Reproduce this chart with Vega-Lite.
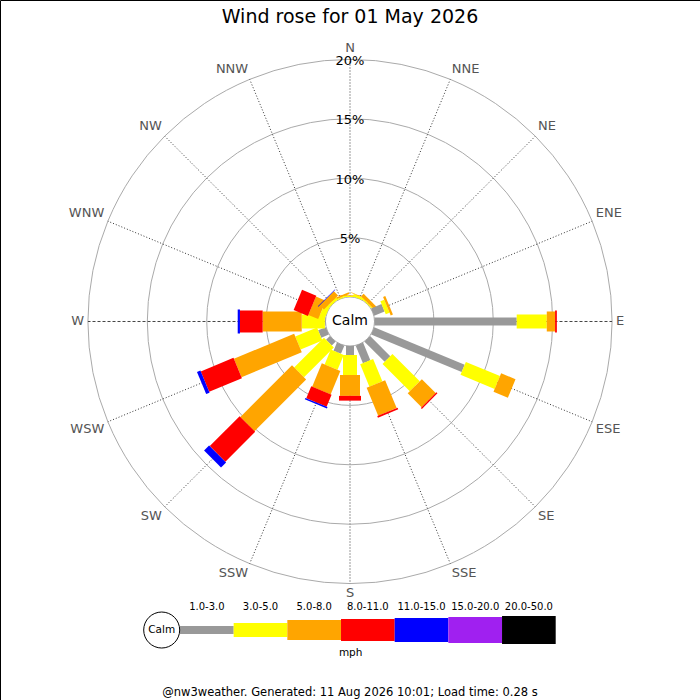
{
  "$schema": "https://vega.github.io/schema/vega-lite/v6.json",
  "width": 700,
  "height": 700,
  "autosize": {"type": "fit", "contains": "padding"},
  "padding": 0,
  "background": "white",
  "config": {"font": "DejaVu Sans", "view": {"stroke": "#000000", "strokeWidth": 1}},
  "datasets": {
    "wind": [
      {"dir": "NNW", "deg": 337.5, "k": 2, "speed": "3.0-5.0", "pct": 0.1},
      {"dir": "NNW", "deg": 337.5, "k": 3, "speed": "5.0-8.0", "pct": 0.15},
      {"dir": "N", "deg": 0, "k": 2, "speed": "3.0-5.0", "pct": 0.1},
      {"dir": "N", "deg": 0, "k": 3, "speed": "5.0-8.0", "pct": 0.05},
      {"dir": "NNE", "deg": 22.5, "k": 2, "speed": "3.0-5.0", "pct": 0.2},
      {"dir": "NNE", "deg": 22.5, "k": 3, "speed": "5.0-8.0", "pct": 0.05},
      {"dir": "NE", "deg": 45, "k": 2, "speed": "3.0-5.0", "pct": 0.1},
      {"dir": "NE", "deg": 45, "k": 3, "speed": "5.0-8.0", "pct": 0.3},
      {"dir": "ENE", "deg": 67.5, "k": 1, "speed": "1.0-3.0", "pct": 0.95},
      {"dir": "ENE", "deg": 67.5, "k": 2, "speed": "3.0-5.0", "pct": 0.35},
      {"dir": "ENE", "deg": 67.5, "k": 3, "speed": "5.0-8.0", "pct": 0.2},
      {"dir": "E", "deg": 90, "k": 1, "speed": "1.0-3.0", "pct": 11.97},
      {"dir": "E", "deg": 90, "k": 2, "speed": "3.0-5.0", "pct": 2.53},
      {"dir": "E", "deg": 90, "k": 3, "speed": "5.0-8.0", "pct": 0.7},
      {"dir": "E", "deg": 90, "k": 4, "speed": "8.0-11.0", "pct": 0.15},
      {"dir": "ESE", "deg": 112.5, "k": 1, "speed": "1.0-3.0", "pct": 8.25},
      {"dir": "ESE", "deg": 112.5, "k": 2, "speed": "3.0-5.0", "pct": 3.11},
      {"dir": "ESE", "deg": 112.5, "k": 3, "speed": "5.0-8.0", "pct": 1.31},
      {"dir": "SE", "deg": 135, "k": 1, "speed": "1.0-3.0", "pct": 2.4},
      {"dir": "SE", "deg": 135, "k": 2, "speed": "3.0-5.0", "pct": 3.25},
      {"dir": "SE", "deg": 135, "k": 3, "speed": "5.0-8.0", "pct": 1.65},
      {"dir": "SE", "deg": 135, "k": 4, "speed": "8.0-11.0", "pct": 0.12},
      {"dir": "SSE", "deg": 157.5, "k": 1, "speed": "1.0-3.0", "pct": 1.6},
      {"dir": "SSE", "deg": 157.5, "k": 2, "speed": "3.0-5.0", "pct": 2.03},
      {"dir": "SSE", "deg": 157.5, "k": 3, "speed": "5.0-8.0", "pct": 2.54},
      {"dir": "SSE", "deg": 157.5, "k": 4, "speed": "8.0-11.0", "pct": 0.15},
      {"dir": "S", "deg": 180, "k": 1, "speed": "1.0-3.0", "pct": 0.76},
      {"dir": "S", "deg": 180, "k": 2, "speed": "3.0-5.0", "pct": 1.68},
      {"dir": "S", "deg": 180, "k": 3, "speed": "5.0-8.0", "pct": 1.76},
      {"dir": "S", "deg": 180, "k": 4, "speed": "8.0-11.0", "pct": 0.4},
      {"dir": "SSW", "deg": 202.5, "k": 1, "speed": "1.0-3.0", "pct": 0.74},
      {"dir": "SSW", "deg": 202.5, "k": 2, "speed": "3.0-5.0", "pct": 1.36},
      {"dir": "SSW", "deg": 202.5, "k": 3, "speed": "5.0-8.0", "pct": 2.13},
      {"dir": "SSW", "deg": 202.5, "k": 4, "speed": "8.0-11.0", "pct": 1.09},
      {"dir": "SSW", "deg": 202.5, "k": 5, "speed": "11.0-15.0", "pct": 0.13},
      {"dir": "SW", "deg": 225, "k": 1, "speed": "1.0-3.0", "pct": 0.45},
      {"dir": "SW", "deg": 225, "k": 2, "speed": "3.0-5.0", "pct": 3.55},
      {"dir": "SW", "deg": 225, "k": 3, "speed": "5.0-8.0", "pct": 6.15},
      {"dir": "SW", "deg": 225, "k": 4, "speed": "8.0-11.0", "pct": 3.55},
      {"dir": "SW", "deg": 225, "k": 5, "speed": "11.0-15.0", "pct": 0.6},
      {"dir": "WSW", "deg": 247.5, "k": 1, "speed": "1.0-3.0", "pct": 0.7},
      {"dir": "WSW", "deg": 247.5, "k": 2, "speed": "3.0-5.0", "pct": 1.98},
      {"dir": "WSW", "deg": 247.5, "k": 3, "speed": "5.0-8.0", "pct": 5.49},
      {"dir": "WSW", "deg": 247.5, "k": 4, "speed": "8.0-11.0", "pct": 2.98},
      {"dir": "WSW", "deg": 247.5, "k": 5, "speed": "11.0-15.0", "pct": 0.31},
      {"dir": "W", "deg": 270, "k": 1, "speed": "1.0-3.0", "pct": 0.05},
      {"dir": "W", "deg": 270, "k": 2, "speed": "3.0-5.0", "pct": 1.95},
      {"dir": "W", "deg": 270, "k": 3, "speed": "5.0-8.0", "pct": 3.29},
      {"dir": "W", "deg": 270, "k": 4, "speed": "8.0-11.0", "pct": 1.91},
      {"dir": "W", "deg": 270, "k": 5, "speed": "11.0-15.0", "pct": 0.19},
      {"dir": "WNW", "deg": 292.5, "k": 2, "speed": "3.0-5.0", "pct": 0.49},
      {"dir": "WNW", "deg": 292.5, "k": 3, "speed": "5.0-8.0", "pct": 0.9},
      {"dir": "WNW", "deg": 292.5, "k": 4, "speed": "8.0-11.0", "pct": 1.3},
      {"dir": "NW", "deg": 315, "k": 2, "speed": "3.0-5.0", "pct": 0.2},
      {"dir": "NW", "deg": 315, "k": 3, "speed": "5.0-8.0", "pct": 0.5},
      {"dir": "NW", "deg": 315, "k": 5, "speed": "11.0-15.0", "pct": 0.05}
    ],
    "dirs": [
      {"name": "N", "deg": 0}, {"name": "NNE", "deg": 22.5}, {"name": "NE", "deg": 45}, {"name": "ENE", "deg": 67.5},
      {"name": "E", "deg": 90}, {"name": "ESE", "deg": 112.5}, {"name": "SE", "deg": 135}, {"name": "SSE", "deg": 157.5},
      {"name": "S", "deg": 180}, {"name": "SSW", "deg": 202.5}, {"name": "SW", "deg": 225}, {"name": "WSW", "deg": 247.5},
      {"name": "W", "deg": 270}, {"name": "WNW", "deg": 292.5}, {"name": "NW", "deg": 315}, {"name": "NNW", "deg": 337.5}
    ],
    "rings": [{"pct": 5}, {"pct": 10}, {"pct": 15}, {"pct": 20}],
    "classes": [
      {"k": 1, "speed": "1.0-3.0"}, {"k": 2, "speed": "3.0-5.0"}, {"k": 3, "speed": "5.0-8.0"},
      {"k": 4, "speed": "8.0-11.0"}, {"k": 5, "speed": "11.0-15.0"}, {"k": 6, "speed": "15.0-20.0"},
      {"k": 7, "speed": "20.0-50.0"}
    ]
  },
  "resolve": {"scale": {"x": "independent"}},
  "layer": [
    {
      "layer": [
        {
          "data": {"name": "rings"},
          "transform": [{"calculate": "2.062 + datum.pct", "as": "rr"}],
          "mark": {"type": "point", "shape": "circle", "filled": false, "stroke": "#aaaaaa", "strokeWidth": 1, "opacity": 1},
          "encoding": {
            "x": {"datum": 0, "type": "quantitative", "scale": {"domain": [-29.46, 29.46], "nice": false, "zero": false}, "axis": null},
            "y": {"datum": 0, "type": "quantitative", "scale": {"domain": [-31.86, 27.06], "nice": false, "zero": false}, "axis": null},
            "size": {"field": "rr", "type": "quantitative", "scale": {"type": "pow", "exponent": 2, "domain": [0, 1], "range": [0, 564.5]}, "legend": null}
          }
        },
        {
          "data": {"name": "dirs"},
          "transform": [
            {"filter": "datum.deg % 90 != 0"},
            {"calculate": "2.062 * sin(datum.deg * PI / 180)", "as": "ax"},
            {"calculate": "2.062 * cos(datum.deg * PI / 180)", "as": "ay"},
            {"calculate": "22.062 * sin(datum.deg * PI / 180)", "as": "bx"},
            {"calculate": "22.062 * cos(datum.deg * PI / 180)", "as": "by"}
          ],
          "mark": {"type": "rule", "color": "#333333", "strokeWidth": 1, "strokeDash": [1, 2]},
          "encoding": {
            "x": {"field": "ax", "type": "quantitative", "scale": {"domain": [-29.46, 29.46], "nice": false, "zero": false}, "axis": null},
            "y": {"field": "ay", "type": "quantitative", "scale": {"domain": [-31.86, 27.06], "nice": false, "zero": false}, "axis": null},
            "x2": {"field": "bx"},
            "y2": {"field": "by"}
          }
        },
        {
          "data": {"name": "dirs"},
          "transform": [
            {"filter": "datum.deg == 90 || datum.deg == 270"},
            {"calculate": "2.062 * sin(datum.deg * PI / 180)", "as": "ax"},
            {"calculate": "22.062 * sin(datum.deg * PI / 180)", "as": "bx"}
          ],
          "mark": {"type": "rule", "color": "#444444", "strokeWidth": 1, "strokeDash": [3, 2]},
          "encoding": {
            "x": {"field": "ax", "type": "quantitative", "scale": {"domain": [-29.46, 29.46], "nice": false, "zero": false}, "axis": null},
            "y": {"datum": 0, "type": "quantitative", "scale": {"domain": [-31.86, 27.06], "nice": false, "zero": false}, "axis": null},
            "x2": {"field": "bx"}
          }
        },
        {
          "data": {"name": "dirs"},
          "transform": [
            {"filter": "datum.deg == 0 || datum.deg == 180"},
            {"calculate": "2.062 * cos(datum.deg * PI / 180)", "as": "ay"},
            {"calculate": "22.062 * cos(datum.deg * PI / 180)", "as": "by"}
          ],
          "mark": {"type": "rule", "color": "#999999", "strokeWidth": 1, "strokeDash": [2, 1]},
          "encoding": {
            "x": {"datum": 0, "type": "quantitative", "scale": {"domain": [-29.46, 29.46], "nice": false, "zero": false}, "axis": null},
            "y": {"field": "ay", "type": "quantitative", "scale": {"domain": [-31.86, 27.06], "nice": false, "zero": false}, "axis": null},
            "y2": {"field": "by"}
          }
        },
        {
          "data": {"name": "rings"},
          "transform": [
            {"calculate": "2.062 + datum.pct", "as": "rr"},
            {"calculate": "datum.pct + '%'", "as": "label"}
          ],
          "mark": {"type": "text", "fontSize": 13, "color": "#000000", "align": "center", "baseline": "middle", "dy": 1.5},
          "encoding": {
            "x": {"datum": 0, "type": "quantitative", "scale": {"domain": [-29.46, 29.46], "nice": false, "zero": false}, "axis": null},
            "y": {"field": "rr", "type": "quantitative", "scale": {"domain": [-31.86, 27.06], "nice": false, "zero": false}, "axis": null},
            "text": {"field": "label"}
          }
        },
        {
          "data": {"name": "dirs"},
          "transform": [
            {"calculate": "22.39 * sin(datum.deg * PI / 180)", "as": "lx"},
            {"calculate": "22.39 * cos(datum.deg * PI / 180)", "as": "ly"}
          ],
          "mark": {
            "type": "text", "fontSize": 13, "color": "#555555",
            "align": {"expr": "datum.deg % 180 == 0 ? 'center' : (datum.deg < 180 ? 'left' : 'right')"},
            "baseline": {"expr": "datum.deg == 90 || datum.deg == 270 ? 'middle' : ((datum.deg < 90 || datum.deg > 270) ? 'bottom' : 'top')"}
          },
          "encoding": {
            "x": {"field": "lx", "type": "quantitative", "scale": {"domain": [-29.46, 29.46], "nice": false, "zero": false}, "axis": null},
            "y": {"field": "ly", "type": "quantitative", "scale": {"domain": [-31.86, 27.06], "nice": false, "zero": false}, "axis": null},
            "text": {"field": "name"}
          }
        },
        {
          "data": {"values": [{"label": "Calm"}]},
          "mark": {"type": "point", "shape": "circle", "filled": true, "fill": "#ffffff", "stroke": "#aaaaaa", "strokeWidth": 1, "opacity": 1, "size": 2401},
          "encoding": {
            "x": {"datum": 0, "type": "quantitative", "scale": {"domain": [-29.46, 29.46], "nice": false, "zero": false}, "axis": null},
            "y": {"datum": 0, "type": "quantitative", "scale": {"domain": [-31.86, 27.06], "nice": false, "zero": false}, "axis": null}
          }
        },
        {
          "data": {"name": "wind"},
          "transform": [
            {"window": [{"op": "sum", "field": "pct", "as": "cum"}], "groupby": ["dir"], "sort": [{"field": "k", "order": "ascending"}], "frame": [null, 0]},
            {"calculate": "2.062 + datum.cum - datum.pct", "as": "r0"},
            {"calculate": "2.062 + datum.cum", "as": "r1"},
            {"calculate": "datum.r0 * sin(datum.deg * PI / 180)", "as": "x0"},
            {"calculate": "datum.r0 * cos(datum.deg * PI / 180)", "as": "y0"},
            {"calculate": "datum.r1 * sin(datum.deg * PI / 180)", "as": "x1"},
            {"calculate": "datum.r1 * cos(datum.deg * PI / 180)", "as": "y1"}
          ],
          "mark": {"type": "rule", "strokeCap": "butt"},
          "encoding": {
            "x": {"field": "x0", "type": "quantitative", "scale": {"domain": [-29.46, 29.46], "nice": false, "zero": false}, "axis": null},
            "y": {"field": "y0", "type": "quantitative", "scale": {"domain": [-31.86, 27.06], "nice": false, "zero": false}, "axis": null},
            "x2": {"field": "x1"},
            "y2": {"field": "y1"},
            "color": {
              "field": "speed", "type": "nominal", "legend": null,
              "scale": {
                "domain": ["1.0-3.0", "3.0-5.0", "5.0-8.0", "8.0-11.0", "11.0-15.0", "15.0-20.0", "20.0-50.0"],
                "range": ["#999999", "#ffff00", "#ffa500", "#ff0000", "#0000ff", "#a020f0", "#000000"]
              }
            },
            "strokeWidth": {
              "field": "k", "type": "quantitative", "legend": null,
              "scale": {"type": "threshold", "domain": [1.5, 2.5, 3.5, 4.5, 5.5, 6.5], "range": [8, 14, 20, 22, 24, 26, 28]}
            }
          }
        },
        {
          "data": {"values": [
            {"label": "Calm", "role": "calm", "y": 0, "size": 14},
            {"label": "Wind rose for 01 May 2026", "role": "title", "y": 25.63, "size": 19},
            {"label": "@nw3weather. Generated: 11 Aug 2026 10:01; Load time: 0.28 s", "role": "footer", "y": -31.27, "size": 11.5}
          ]},
          "mark": {"type": "text", "align": "center", "baseline": "middle", "color": "#000000"},
          "encoding": {
            "x": {"datum": 0, "type": "quantitative", "scale": {"domain": [-29.46, 29.46], "nice": false, "zero": false}, "axis": null},
            "y": {"field": "y", "type": "quantitative", "scale": {"domain": [-31.86, 27.06], "nice": false, "zero": false}, "axis": null},
            "text": {"field": "label"},
            "size": {"field": "size", "type": "quantitative", "scale": null}
          }
        }
      ]
    },
    {
      "layer": [
        {
          "data": {"name": "classes"},
          "transform": [{"calculate": "datum.k - 1", "as": "k0"}],
          "mark": {"type": "rule", "strokeCap": "butt"},
          "encoding": {
            "x": {"field": "k0", "type": "quantitative", "scale": {"domain": [0, 7], "range": [180, 555.7], "nice": false, "zero": false}, "axis": null},
            "x2": {"field": "k"},
            "y": {"datum": -25.97, "type": "quantitative", "scale": {"domain": [-31.86, 27.06], "nice": false, "zero": false}, "axis": null},
            "color": {
              "field": "speed", "type": "nominal", "legend": null,
              "scale": {
                "domain": ["1.0-3.0", "3.0-5.0", "5.0-8.0", "8.0-11.0", "11.0-15.0", "15.0-20.0", "20.0-50.0"],
                "range": ["#999999", "#ffff00", "#ffa500", "#ff0000", "#0000ff", "#a020f0", "#000000"]
              }
            },
            "strokeWidth": {
              "field": "k", "type": "quantitative", "legend": null,
              "scale": {"type": "threshold", "domain": [1.5, 2.5, 3.5, 4.5, 5.5, 6.5], "range": [8, 14, 20, 22, 24, 26, 28]}
            }
          }
        },
        {
          "data": {"name": "classes"},
          "transform": [{"calculate": "datum.k - 0.5", "as": "kc"}],
          "mark": {"type": "text", "fontSize": 10, "color": "#000000", "align": "center", "baseline": "middle"},
          "encoding": {
            "x": {"field": "kc", "type": "quantitative", "scale": {"domain": [0, 7], "range": [180, 555.7], "nice": false, "zero": false}, "axis": null},
            "y": {"datum": -24.01, "type": "quantitative", "scale": {"domain": [-31.86, 27.06], "nice": false, "zero": false}, "axis": null},
            "text": {"field": "speed"}
          }
        },
        {
          "data": {"values": [{"label": "Calm"}]},
          "mark": {"type": "point", "shape": "circle", "filled": true, "fill": "#ffffff", "stroke": "#000000", "strokeWidth": 1, "opacity": 1, "size": 1296},
          "encoding": {
            "x": {"datum": -0.341, "type": "quantitative", "scale": {"domain": [0, 7], "range": [180, 555.7], "nice": false, "zero": false}, "axis": null},
            "y": {"datum": -25.97, "type": "quantitative", "scale": {"domain": [-31.86, 27.06], "nice": false, "zero": false}, "axis": null}
          }
        },
        {
          "data": {"values": [
            {"label": "Calm", "kx": -0.341, "y": -25.97},
            {"label": "mph", "kx": 3.18, "y": -27.9}
          ]},
          "mark": {"type": "text", "fontSize": 10.5, "color": "#000000", "align": "center", "baseline": "middle"},
          "encoding": {
            "x": {"field": "kx", "type": "quantitative", "scale": {"domain": [0, 7], "range": [180, 555.7], "nice": false, "zero": false}, "axis": null},
            "y": {"field": "y", "type": "quantitative", "scale": {"domain": [-31.86, 27.06], "nice": false, "zero": false}, "axis": null},
            "text": {"field": "label"}
          }
        }
      ]
    }
  ]
}
